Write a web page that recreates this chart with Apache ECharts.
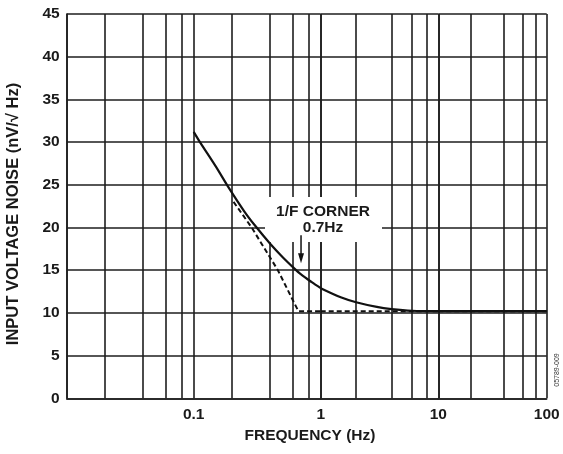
<!DOCTYPE html>
<html>
<head>
<meta charset="utf-8">
<script src="https://cdn.jsdelivr.net/npm/echarts@6/dist/echarts.min.js"></script>
<style>
  html, body { margin: 0; padding: 0; background: #fff; }
  #chart { width: 563px; height: 454px; }
</style>
</head>
<body>
<div id="chart"></div>
<script>
// Measured input voltage noise density (nV/√Hz) versus frequency (Hz)
const noiseFreq  = [0.1, 0.112, 0.15, 0.188, 0.25, 0.305, 0.4, 0.5, 0.61, 0.7, 0.85, 1, 1.5, 2, 3, 4, 6, 10, 100];
const noiseValue = [31.2, 30, 27.1, 24.7, 21.9, 20.2, 18.1, 16.55, 15.3, 14.5, 13.6, 12.9, 11.8, 11.25, 10.7, 10.45, 10.25, 10.2, 10.2];

// Straight-line asymptotes (1/f slope meeting the white-noise floor)
const asymptoteFreq  = [0.206, 0.286, 0.46, 0.667, 1, 10, 100];
const asymptoteValue = [23, 20, 15, 10.2, 10.2, 10.2, 10.2];

// 1/f corner marker
const cornerFreq = 0.7;
const cornerArrowFrom = 19.1;
const cornerArrowTo = 15.8;

// Intermediate vertical grid lines (2, 4, 6, 8 of each decade)
const minorGridFreq = [0.02, 0.04, 0.06, 0.08, 0.2, 0.4, 0.6, 0.8, 2, 4, 6, 8, 20, 40, 60, 80];

// Axis ticks
const xTickLabels = ['0.1', '1', '10', '100'];
const yMin = 0, yMax = 45, yStep = 5;

// Each decade band gets its own log axis so the plot can use the sheet's ruling
const decadeRanges = [[0.01, 1], [1, 10], [10, 100]];
const panelLayout = [
  { left: 66.7, width: 254 },
  { left: 320.7, width: 117.6 },
  { left: 438.3, width: 108.4 }
];
const plotTop = 14, plotHeight = 384.3;

const FONT = 'Arial, "Liberation Sans", Helvetica, sans-serif';
const INK = '#1a1a1a';
const RULE = { color: '#1e1e1e', width: 1.6 };

function pairs(xs, ys, lo, hi) {
  const out = [];
  for (let i = 0; i < xs.length; i++) {
    if (xs[i] >= lo && xs[i] <= hi) out.push([xs[i], ys[i]]);
  }
  return out;
}

const grids = [], xAxes = [], yAxes = [], series = [];

decadeRanges.forEach(([lo, hi], p) => {
  grids.push({ left: panelLayout[p].left, width: panelLayout[p].width, top: plotTop, height: plotHeight, containLabel: false });
  xAxes.push({
    type: 'log', logBase: 10, min: lo, max: hi, gridIndex: p, z: 0,
    axisLine: { show: true, lineStyle: RULE },
    axisTick: { show: false },
    splitLine: { show: true, lineStyle: RULE },
    axisLabel: {
      show: true, margin: 8, showMinLabel: true, showMaxLabel: true,
      color: INK, fontFamily: FONT, fontWeight: 'bold', fontSize: 15.5,
      formatter: v => {
        const s = String(parseFloat(Number(v).toPrecision(6)));
        if (p > 0 && Math.abs(v - lo) < 1e-9) return '';
        return xTickLabels.includes(s) ? s : '';
      }
    }
  });
  yAxes.push({
    type: 'value', min: yMin, max: yMax, interval: yStep, gridIndex: p, z: 0,
    axisLine: { show: p === 0, lineStyle: RULE },
    axisTick: { show: false },
    splitLine: { show: true, lineStyle: RULE },
    axisLabel: {
      show: p === 0, margin: 7,
      color: INK, fontFamily: FONT, fontWeight: 'bold', fontSize: 15.5
    }
  });

  // intermediate vertical rules
  series.push({
    type: 'line', xAxisIndex: p, yAxisIndex: p, data: [], silent: true, z: 0,
    markLine: {
      z: 0, silent: true, symbol: ['none', 'none'], animation: false,
      label: { show: false },
      lineStyle: { color: RULE.color, width: RULE.width, type: 'solid' },
      data: minorGridFreq.filter(f => f > lo && f < hi).map(f => ({ xAxis: f }))
    }
  });

  // asymptote (dashed)
  series.push({
    type: 'line', xAxisIndex: p, yAxisIndex: p, z: 3,
    data: pairs(asymptoteFreq, asymptoteValue, lo, hi),
    showSymbol: false, symbol: 'none', animation: false, silent: true,
    lineStyle: { color: '#111', width: 2, type: [5, 3] }
  });

  // measured noise (solid)
  series.push({
    type: 'line', xAxisIndex: p, yAxisIndex: p, z: 4,
    data: pairs(noiseFreq, noiseValue, lo, hi),
    smooth: 0.3, showSymbol: false, symbol: 'none', animation: false, silent: true,
    lineStyle: { color: '#111', width: 2.2 }
  });
});

const chart = echarts.init(document.getElementById('chart'), null, { renderer: 'canvas' });
chart.setOption({
  animation: false,
  backgroundColor: '#fff',
  grid: grids,
  xAxis: xAxes,
  yAxis: yAxes,
  series: series
});

// annotation: label box and arrow pointing at the corner frequency
const arrowTop = chart.convertToPixel({ xAxisIndex: 0, yAxisIndex: 0 }, [cornerFreq, cornerArrowFrom]);
const arrowTip = chart.convertToPixel({ xAxisIndex: 0, yAxisIndex: 0 }, [cornerFreq, cornerArrowTo]);
const headLen = 10, headHalf = 3;

chart.setOption({
  graphic: {
    elements: [
      { type: 'rect', z: 1, shape: { x: 265, y: 197, width: 117, height: 45 }, style: { fill: '#fff' } },
      { type: 'text', z: 102, x: 323, y: 212, style: { text: '1/F CORNER', font: 'bold 15.5px ' + FONT, fill: INK, align: 'center', verticalAlign: 'middle' } },
      { type: 'text', z: 102, x: 323, y: 228, style: { text: '0.7Hz', font: 'bold 15.5px ' + FONT, fill: INK, align: 'center', verticalAlign: 'middle' } },
      { type: 'line', z: 102, shape: { x1: arrowTop[0], y1: arrowTop[1], x2: arrowTip[0], y2: arrowTip[1] - headLen + 1 }, style: { stroke: '#111', lineWidth: 1.5 } },
      { type: 'polygon', z: 102, shape: { points: [[arrowTip[0] - headHalf, arrowTip[1] - headLen], [arrowTip[0] + headHalf, arrowTip[1] - headLen], [arrowTip[0], arrowTip[1]]] }, style: { fill: '#111' } },
      { type: 'text', z: 102, x: 310, y: 436, style: { text: 'FREQUENCY (Hz)', font: 'bold 15.5px ' + FONT, fill: INK, align: 'center', verticalAlign: 'middle' } },
      { type: 'text', z: 102, x: 13, y: 214, rotation: Math.PI / 2, style: { text: 'INPUT VOLTAGE NOISE (nV/√ Hz)', font: 'bold 16.5px ' + FONT, fill: INK, align: 'center', verticalAlign: 'middle' } },
      { type: 'text', z: 102, x: 557, y: 370, rotation: Math.PI / 2, style: { text: '05789-009', font: '7px ' + FONT, fill: '#333', align: 'center', verticalAlign: 'middle' } }
    ]
  }
});
</script>
</body>
</html>
